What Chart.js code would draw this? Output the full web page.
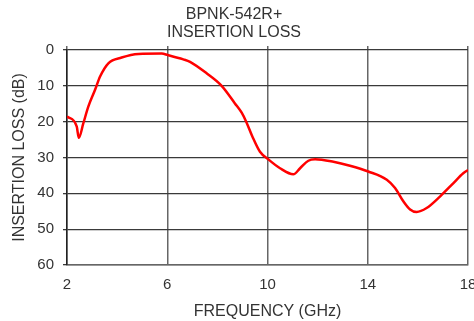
<!DOCTYPE html>
<html>
<head>
<meta charset="utf-8">
<script src="https://cdn.jsdelivr.net/npm/chart.js@4/dist/chart.umd.min.js"></script>
<style>
  html, body { margin: 0; padding: 0; background: #fff; overflow: hidden; }
  #wrap { width: 474px; height: 321px; overflow: hidden; }
</style>
</head>
<body>
<div id="wrap"><canvas id="lossChart" width="488" height="321"></canvas></div>
<script>
var freqGHz = [2.0, 2.39, 2.47, 2.65, 2.85, 3.12, 3.32, 3.65, 4.18, 4.85, 5.78, 6.02, 6.64, 6.91, 7.57,
               8.17, 8.70, 8.97, 9.15, 9.40, 9.70, 10.03, 10.5, 11.03, 11.3, 11.63, 11.9, 12.63, 13.29,
               14.02, 14.76, 15.09, 15.42, 15.69, 15.95, 16.35, 16.88, 17.41, 17.81, 18.0];
var lossDb = [18.5, 21.4, 24.5, 20.5, 15.8, 11.1, 7.4, 3.7, 2.1, 1.1, 1.0, 1.4, 2.6, 3.3, 6.5,
              10.0, 14.9, 17.5, 20.0, 24.2, 28.4, 30.5, 33.0, 34.7, 33.0, 30.9, 30.5, 31.2, 32.3,
              33.9, 36.2, 38.5, 42.2, 44.5, 45.2, 44.1, 40.9, 37.2, 34.4, 33.5];
var freqTicks = [2, 6, 10, 14, 18];
var lossTicks = [0, 10, 20, 30, 40, 50, 60];
var chartTitle = ['BPNK-542R+', 'INSERTION LOSS'];

var fontFamily = 'Arial, "Liberation Sans", sans-serif';
var textColor = '#333';

var points = freqGHz.map(function (f, i) { return { x: f, y: lossDb[i] }; });

new Chart(document.getElementById('lossChart'), {
     type: 'line',
     data: {
          datasets: [
               {
                    label: 'Insertion Loss',
                    data: points,
                    borderColor: '#ff0000',
                    borderWidth: 2.5,
                    pointRadius: 0,
                    cubicInterpolationMode: 'monotone',
                    fill: false
               }
          ]
     },
     options: {
          responsive: false,
          animation: false,
          devicePixelRatio: 1,
          // right padding leaves room for the "18" label, which gets clipped by the wrapper like in the original
          layout: { padding: { left: 0, right: 20, top: 0, bottom: 0 } },
          plugins: {
               legend: { display: false },
               tooltip: { enabled: false },
               title: {
                    display: true,
                    text: chartTitle,
                    color: textColor,
                    font: { family: fontFamily, size: 16, weight: 'normal', lineHeight: '18px' },
                    padding: { top: 6, bottom: 0 }
               }
          },
          scales: {
               x: {
                    type: 'linear',
                    position: 'bottom',
                    min: freqTicks[0],
                    max: freqTicks[freqTicks.length - 1],
                    afterBuildTicks: function (scale) {
                         scale.ticks = freqTicks.map(function (v) { return { value: v }; });
                    },
                    afterFit: function (scale) { scale.height = 56; },
                    grid: { color: '#666', lineWidth: 1.5, drawTicks: false },
                    border: { color: '#666', width: 1.5 },
                    ticks: { color: textColor, padding: 11, font: { family: fontFamily, size: 15 } },
                    title: {
                         display: true,
                         text: 'FREQUENCY (GHz)',
                         color: textColor,
                         font: { family: fontFamily, size: 16 },
                         padding: { top: 0, bottom: 0 }
                    }
               },
               // short tick marks poking above the top edge
               xTop: {
                    type: 'linear',
                    position: 'top',
                    min: freqTicks[0],
                    max: freqTicks[freqTicks.length - 1],
                    afterBuildTicks: function (scale) {
                         scale.ticks = freqTicks.map(function (v) { return { value: v }; });
                    },
                    afterFit: function (scale) { scale.height = 8; },
                    grid: { color: '#666', lineWidth: 1.5, drawOnChartArea: false, tickLength: 4 },
                    border: { display: false },
                    ticks: { display: false }
               },
               y: {
                    reverse: true,
                    min: lossTicks[0],
                    max: lossTicks[lossTicks.length - 1],
                    afterBuildTicks: function (scale) {
                         scale.ticks = lossTicks.map(function (v) { return { value: v }; });
                    },
                    afterFit: function (scale) { scale.width = 67; },
                    grid: { color: '#3a3a3a', lineWidth: 1.3, tickLength: 4 },
                    border: { color: '#222', width: 1.5 },
                    ticks: { color: textColor, padding: 9, font: { family: fontFamily, size: 15 } },
                    title: {
                         display: true,
                         text: 'INSERTION LOSS (dB)',
                         color: textColor,
                         font: { family: fontFamily, size: 16 },
                         padding: { top: 10, bottom: 0 }
                    }
               }
          }
     }
});
</script>
</body>
</html>
